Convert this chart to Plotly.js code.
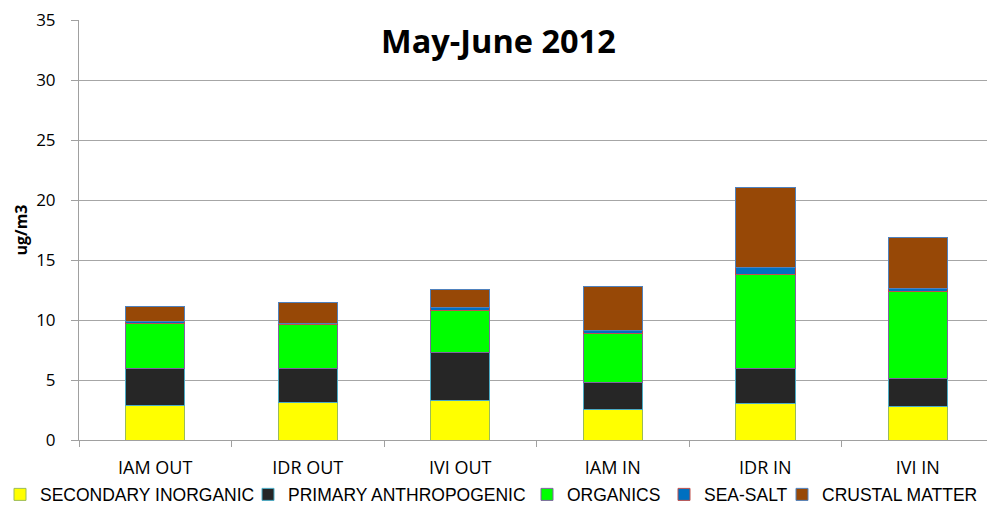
<!DOCTYPE html>
<html>
<head>
<meta charset="utf-8">
<script src="https://cdn.plot.ly/plotly-3.0.1.min.js"></script>
<style>html,body{margin:0;padding:0;background:#fff;}#chart{width:987px;height:505px;}</style>
</head>
<body>
<div id="chart"></div>
<script>
const categories = ["IAM OUT", "IDR OUT", "IVI OUT", "IAM IN", "IDR IN", "IVI IN"];
const secondaryInorganic = [2.85, 3.15, 3.27, 2.55, 3.04, 2.82];
const primaryAnthropogenic = [3.1, 2.8, 4.0, 2.27, 2.92, 2.28];
const organics = [3.8, 3.65, 3.55, 4.05, 7.86, 7.3];
const seaSalt = [0.1, 0.15, 0.22, 0.23, 0.56, 0.23];
const crustalMatter = [1.3, 1.7, 1.5, 3.67, 6.69, 4.22];
const seriesNames = ["SECONDARY INORGANIC", "PRIMARY ANTHROPOGENIC", "ORGANICS", "SEA-SALT", "CRUSTAL MATTER"];
const yTicks = [0, 5, 10, 15, 20, 25, 30, 35];

const seriesValues = [secondaryInorganic, primaryAnthropogenic, organics, seaSalt, crustalMatter];
const fills = ["#FFFF00", "#262626", "#00FF00", "#0070C0", "#974806"];
const borders = ["#9BBB59", "#4BACC6", "#8064A2", "#C0504D", "#4F81BD"];
const legendIds = ["legend", "legend2", "legend3", "legend4", "legend5"];
const legendX = [0, 248, 527, 664, 782];

const traces = seriesValues.map((vals, i) => ({
  type: "bar",
  name: seriesNames[i],
  x: categories,
  y: vals,
  width: 0.39,
  legend: legendIds[i],
  marker: { color: fills[i], line: { color: borders[i], width: 1 } },
  hoverinfo: "x+y+name"
}));

const sans = "Open Sans, Liberation Sans, sans-serif";
const legendFont = "Liberation Sans, Arial, sans-serif";

const layout = {
  width: 987,
  height: 505,
  margin: { l: 79, r: 0, t: 20, b: 65, autoexpand: false },
  paper_bgcolor: "#ffffff",
  plot_bgcolor: "#ffffff",
  barmode: "stack",
  showlegend: true,
  title: {
    text: "<b>May-June 2012</b>",
    font: { family: sans, size: 32.5, color: "#000" },
    xref: "container", x: 0.505, xanchor: "center",
    yref: "container", y: 0.918, yanchor: "middle"
  },
  xaxis: {
    type: "category",
    range: [-0.5, 5.454],
    tickson: "boundaries",
    ticks: "outside",
    ticklen: 6,
    tickcolor: "#A0A0A0",
    showline: true,
    linecolor: "#A0A0A0",
    linewidth: 1,
    showgrid: false,
    tickfont: { family: sans, size: 18, color: "#000" },
    ticklabelstandoff: 11,
    fixedrange: true
  },
  yaxis: {
    range: [0, 35],
    tickvals: yTicks,
    ticktext: yTicks.map(String),
    ticks: "outside",
    ticklen: 7,
    tickcolor: "#A0A0A0",
    showline: true,
    linecolor: "#A0A0A0",
    linewidth: 1,
    showgrid: true,
    gridcolor: "#A6A6A6",
    gridwidth: 1,
    zeroline: false,
    tickfont: { family: sans, size: 17, color: "#000" },
    ticklabelstandoff: 12,
    title: { text: "<b>ug/m3</b>", font: { family: sans, size: 16, color: "#000" }, standoff: 4 },
    fixedrange: true
  }
};

legendIds.forEach((id, i) => {
  layout[id] = {
    orientation: "h",
    xref: "container", x: legendX[i] / 987, xanchor: "left",
    yref: "container", y: 1 - 494.5 / 505, yanchor: "middle",
    font: { family: legendFont, size: 17.5, color: "#000" },
    itemwidth: 30,
    bgcolor: "rgba(0,0,0,0)",
    borderwidth: 0
  };
});

Plotly.newPlot("chart", traces, layout, { displayModeBar: false, staticPlot: true });
</script>
</body>
</html>
